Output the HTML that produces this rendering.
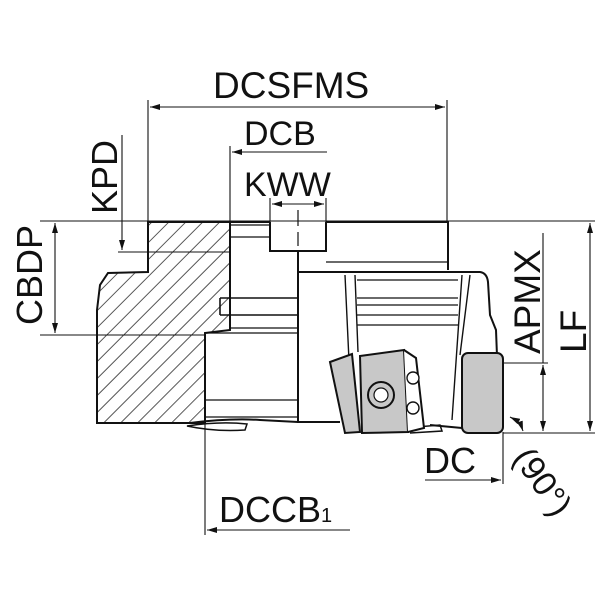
<!DOCTYPE html>
<html><head><meta charset="utf-8"><style>
html,body{margin:0;padding:0;background:#fff;}
svg{display:block;}
text{font-family:"Liberation Sans",sans-serif;fill:#111;}
</style></head><body>
<svg width="600" height="600" viewBox="0 0 600 600" xmlns="http://www.w3.org/2000/svg">
<defs>
<pattern id="h" patternUnits="userSpaceOnUse" width="12" height="12" patternTransform="rotate(45)">
<line x1="0" y1="0" x2="0" y2="12" stroke="#111" stroke-width="1.4"/>
</pattern>
<marker id="a" viewBox="0 0 10 6" refX="10" refY="3" markerWidth="10" markerHeight="6" orient="auto-start-reverse" markerUnits="userSpaceOnUse">
<path d="M0,0 L10,3 L0,6 z" fill="#111"/>
</marker>
</defs>

<g stroke="#111" stroke-width="1.1" fill="none">
<line x1="148" y1="100" x2="148" y2="222"/>
<line x1="447" y1="100" x2="447" y2="222"/>
<line x1="150" y1="107" x2="445" y2="107" marker-start="url(#a)" marker-end="url(#a)"/>
<line x1="230" y1="146" x2="230" y2="222"/>
<line x1="232" y1="152" x2="327" y2="152" marker-start="url(#a)"/>
<line x1="270" y1="198" x2="270" y2="222"/>
<line x1="326" y1="198" x2="326" y2="222"/>
<line x1="272" y1="204" x2="324" y2="204" marker-start="url(#a)" marker-end="url(#a)"/>
<line x1="40" y1="221" x2="595" y2="221"/>
<line x1="122" y1="135" x2="122" y2="250" marker-end="url(#a)"/>
<line x1="118" y1="252" x2="230" y2="252"/>
<line x1="40" y1="335" x2="205" y2="335"/>
<line x1="55" y1="223" x2="55" y2="333" marker-start="url(#a)" marker-end="url(#a)"/>
<line x1="590" y1="223" x2="590" y2="431" marker-start="url(#a)" marker-end="url(#a)"/>
<line x1="543" y1="233" x2="543" y2="363"/>
<line x1="503" y1="363" x2="548" y2="363"/>
<line x1="543" y1="365" x2="543" y2="431" marker-start="url(#a)" marker-end="url(#a)"/>
<line x1="503" y1="433" x2="595" y2="433"/>
<line x1="503" y1="432" x2="503" y2="484"/>
<line x1="425" y1="480" x2="501" y2="480" marker-end="url(#a)"/>
<line x1="205" y1="333" x2="205" y2="535"/>
<line x1="207" y1="530" x2="350" y2="530" marker-start="url(#a)"/>
<path d="M510,417 Q520,422 523,431" marker-start="url(#a)" marker-end="url(#a)"/>
</g>

<path d="M148,222 L230,222 L230,330 L205,333 L205,423 L97,423 L97,310 L100,285 L108,273 L148,272 Z" fill="url(#h)" stroke="#111" stroke-width="2"/>

<g stroke="#111" stroke-width="2" fill="none">
<path d="M230,222 L270,222 M326,222 L448,222 L448,270"/>
<path d="M270,222 L270,251 L326,251 L326,222"/>
<line x1="298" y1="232" x2="298" y2="246" stroke-width="1.2"/>
<line x1="298" y1="210" x2="298" y2="226" stroke-width="1.2"/>
<path d="M230,225 L270,225 M230,237 L270,237" stroke-width="1.3"/>
<line x1="298" y1="251" x2="298" y2="423"/>
<path d="M220,298 L298,298 M220,315 L298,315 M220,298 L220,315" stroke-width="1.6"/>
<path d="M230,328 L298,328" stroke-width="1.3"/>
<path d="M205,333 L298,333 M205,400 L298,400 M205,417 L298,417" stroke-width="1.3"/>
<path d="M326,262 L448,262" stroke-width="1.3"/>
<path d="M298,272 L480,272 Q487,273 488,282 L490,315 L496,330 L497,356"/>
<path d="M345,275 L352,425 M355,275 L358,352" stroke-width="1.4"/>
<path d="M470,275 L460,355 M462,275 L452,420" stroke-width="1.4"/>
<path d="M357,280 L458,280 M357,298 L458,298 M357,305 L458,305 M357,315 L458,315 M357,325 L458,325" stroke-width="1.3"/>
<path d="M97,423 L190,423 Q230,418 260,420 L298,422 L340,422 M430,425 L462,428" stroke-width="2"/>
<path d="M187,426 Q215,432 245,430 L247,424 Q220,421 187,426 Z" stroke-width="1.5"/>
<path d="M405,428 L440,425 L442,431 L410,433" stroke-width="1.5"/>
</g>

<g stroke="#111" stroke-width="2">
<path d="M330,362 L352,354 L360,432 L345,433 Z" fill="#c8c8c8"/>
<path d="M360,356 L404,350 L408,432 L362,433 Z" fill="#c8c8c8"/>
<path d="M404,350 L416,358 L424,428 L408,432" fill="#fff"/>
<circle cx="381" cy="395" r="13" fill="#c8c8c8"/>
<circle cx="381" cy="395" r="7" fill="#fff" stroke-width="1.2"/>
<circle cx="413" cy="378" r="6" fill="#fff" stroke-width="1.4"/>
<circle cx="413" cy="408" r="6" fill="#fff" stroke-width="1.4"/>
<rect x="462" y="353" width="41" height="80" rx="6" fill="#c8c8c8"/>
</g>

<text x="213" y="98" font-size="37">DCSFMS</text>
<text x="244" y="145" font-size="34">DCB</text>
<text x="244" y="196" font-size="34">KWW</text>
<text transform="translate(117,214) rotate(-90)" font-size="36">KPD</text>
<text transform="translate(42,325) rotate(-90)" font-size="36">CBDP</text>
<text transform="translate(540,354) rotate(-90)" font-size="37">APMX</text>
<text transform="translate(586,353) rotate(-90)" font-size="37">LF</text>
<text x="424" y="473" font-size="36">DC</text>
<text x="219" y="522" font-size="36">DCCB<tspan font-size="20">1</tspan></text>
<text transform="translate(512,458) rotate(55)" font-size="34">(90°)</text>
</svg>
</body></html>
